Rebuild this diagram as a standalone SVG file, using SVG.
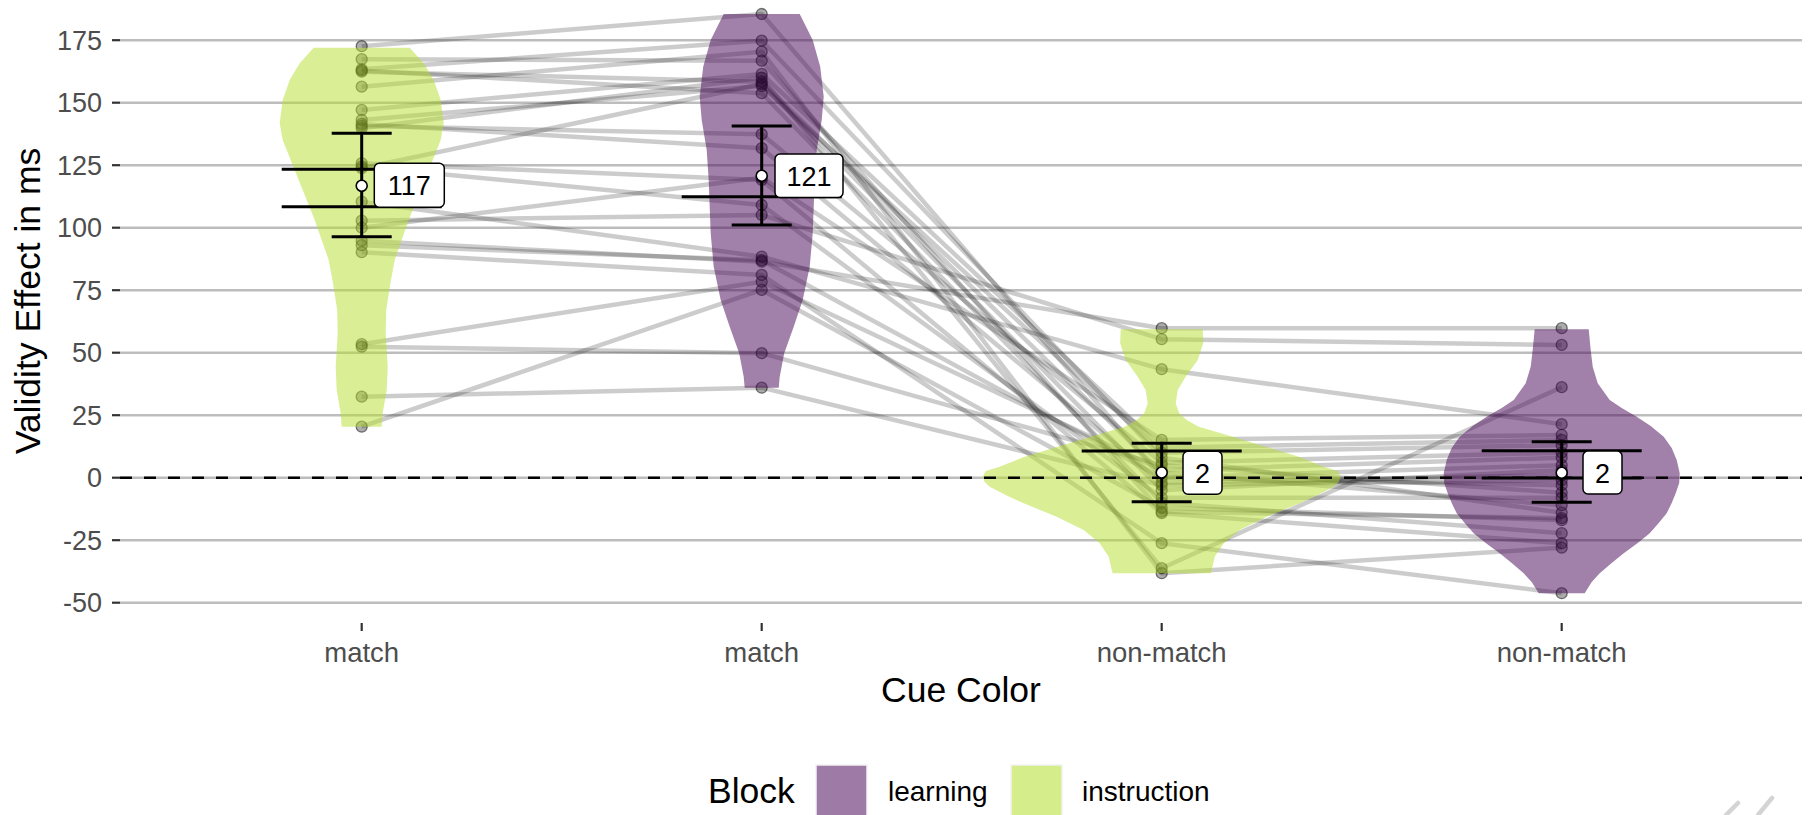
<svg xmlns="http://www.w3.org/2000/svg" width="1810" height="815" viewBox="0 0 1810 815">
<style>
text{font-family:"Liberation Sans",Arial,sans-serif}
.grid line{stroke:#bdbdbd;stroke-width:2.6}
.tick{stroke:#333;stroke-width:2.2}
.ytl{font-size:27px;fill:#4d4d4d;text-anchor:end}
.xtl{font-size:27.5px;fill:#4d4d4d;text-anchor:middle}
.title{font-size:35.5px;fill:#000}
.conn polyline{fill:none;stroke:#000;stroke-opacity:0.2;stroke-width:4.5;stroke-linejoin:round}
.pt{fill:#000;fill-opacity:0.32;stroke:#000;stroke-opacity:0.5;stroke-width:1.3}
.vl{fill:#B4DE2C;fill-opacity:0.5}
.vp{fill:#440154;fill-opacity:0.5}
.eb{stroke:#000;stroke-width:3;fill:none}
.mean{fill:#fff;stroke:#000;stroke-width:1.6}
.lab rect{fill:#fff;stroke:#000;stroke-width:1.5}
.lab text{font-size:27px;fill:#000;text-anchor:middle}
.leg{font-size:28px;fill:#000}
</style>
<rect width="1810" height="815" fill="#fff"/>
<g id="grid" class="grid">
<line x1="120" y1="40.2" x2="1802" y2="40.2"/>
<line x1="120" y1="102.7" x2="1802" y2="102.7"/>
<line x1="120" y1="165.2" x2="1802" y2="165.2"/>
<line x1="120" y1="227.7" x2="1802" y2="227.7"/>
<line x1="120" y1="290.2" x2="1802" y2="290.2"/>
<line x1="120" y1="352.7" x2="1802" y2="352.7"/>
<line x1="120" y1="415.2" x2="1802" y2="415.2"/>
<line x1="120" y1="477.7" x2="1802" y2="477.7"/>
<line x1="120" y1="540.2" x2="1802" y2="540.2"/>
<line x1="120" y1="602.7" x2="1802" y2="602.7"/>
</g>
<g id="y-axis">
<line class="tick" x1="112" y1="40.2" x2="120" y2="40.2"/>
<line class="tick" x1="112" y1="102.7" x2="120" y2="102.7"/>
<line class="tick" x1="112" y1="165.2" x2="120" y2="165.2"/>
<line class="tick" x1="112" y1="227.7" x2="120" y2="227.7"/>
<line class="tick" x1="112" y1="290.2" x2="120" y2="290.2"/>
<line class="tick" x1="112" y1="352.7" x2="120" y2="352.7"/>
<line class="tick" x1="112" y1="415.2" x2="120" y2="415.2"/>
<line class="tick" x1="112" y1="477.7" x2="120" y2="477.7"/>
<line class="tick" x1="112" y1="540.2" x2="120" y2="540.2"/>
<line class="tick" x1="112" y1="602.7" x2="120" y2="602.7"/>
<text class="ytl" x="102" y="49.7">175</text>
<text class="ytl" x="102" y="112.2">150</text>
<text class="ytl" x="102" y="174.7">125</text>
<text class="ytl" x="102" y="237.2">100</text>
<text class="ytl" x="102" y="299.7">75</text>
<text class="ytl" x="102" y="362.2">50</text>
<text class="ytl" x="102" y="424.7">25</text>
<text class="ytl" x="102" y="487.2">0</text>
<text class="ytl" x="102" y="549.7">-25</text>
<text class="ytl" x="102" y="612.2">-50</text>
<text class="title" transform="translate(40,301) rotate(-90)" text-anchor="middle">Validity Effect in ms</text>
</g>
<g id="x-axis">
<line class="tick" x1="361.7" y1="623" x2="361.7" y2="631"/>
<line class="tick" x1="761.7" y1="623" x2="761.7" y2="631"/>
<line class="tick" x1="1161.7" y1="623" x2="1161.7" y2="631"/>
<line class="tick" x1="1561.7" y1="623" x2="1561.7" y2="631"/>
<text class="xtl" x="361.7" y="661.7">match</text>
<text class="xtl" x="761.7" y="661.7">match</text>
<text class="xtl" x="1161.7" y="661.7">non-match</text>
<text class="xtl" x="1561.7" y="661.7">non-match</text>
<text class="title" x="961" y="701.7" text-anchor="middle">Cue Color</text>
</g>
<g id="connectors" class="conn">
<polyline points="361.7,46.2 761.7,14 1161.7,477.7 1561.7,485.2"/>
<polyline points="361.7,59.2 761.7,60.7 1161.7,511.7 1561.7,518.2"/>
<polyline points="361.7,69.2 761.7,40.7 1161.7,457.7 1561.7,512.7"/>
<polyline points="361.7,70.5 761.7,93.2 1161.7,502.7 1561.7,533.2"/>
<polyline points="361.7,71.7 761.7,81.7 1161.7,472.7 1561.7,505.2"/>
<polyline points="361.7,86.7 761.7,51.7 1161.7,573.2 1561.7,547.7"/>
<polyline points="361.7,109.95 761.7,73.95 1161.7,447.7 1561.7,439.95"/>
<polyline points="361.7,119.95 761.7,85.95 1161.7,452.7 1561.7,445.2"/>
<polyline points="361.7,123.95 761.7,148.2 1161.7,482.7 1561.7,475.2"/>
<polyline points="361.7,125.95 761.7,134.2 1161.7,462.7 1561.7,452.7"/>
<polyline points="361.7,128.2 761.7,77.7 1161.7,568.2 1561.7,387.2"/>
<polyline points="361.7,163.2 761.7,179.95 1161.7,513.2 1561.7,543.2"/>
<polyline points="361.7,166.45 761.7,205 1161.7,497.7 1561.7,497.7"/>
<polyline points="361.7,168.2 761.7,83.95 1161.7,490.2 1561.7,470.2"/>
<polyline points="361.7,201.7 761.7,256.7 1161.7,369.2 1561.7,424.2"/>
<polyline points="361.7,220.7 761.7,214.95 1161.7,339.2 1561.7,344.95"/>
<polyline points="361.7,227.7 761.7,177.7 1161.7,439.95 1561.7,434.95"/>
<polyline points="361.7,240.7 761.7,261.7 1161.7,328.2 1561.7,328.2"/>
<polyline points="361.7,245.2 761.7,260.2 1161.7,477.7 1561.7,465.2"/>
<polyline points="361.7,252.2 761.7,274.95 1161.7,543.2 1561.7,593.2"/>
<polyline points="361.7,344.2 761.7,281.7 1161.7,470.2 1561.7,457.7"/>
<polyline points="361.7,346.7 761.7,353.2 1161.7,465.2 1561.7,492.7"/>
<polyline points="361.7,396.7 761.7,387.7 1161.7,485.2 1561.7,480.2"/>
<polyline points="361.7,426.7 761.7,289.95 1161.7,507.7 1561.7,520.2"/>
</g>
<g id="match-instruction">
<g class="pt">
<circle cx="361.7" cy="46.2" r="5.5"/><circle cx="361.7" cy="59.2" r="5.5"/><circle cx="361.7" cy="69.2" r="5.5"/><circle cx="361.7" cy="70.5" r="5.5"/><circle cx="361.7" cy="71.7" r="5.5"/><circle cx="361.7" cy="86.7" r="5.5"/><circle cx="361.7" cy="109.95" r="5.5"/><circle cx="361.7" cy="119.95" r="5.5"/><circle cx="361.7" cy="123.95" r="5.5"/><circle cx="361.7" cy="125.95" r="5.5"/><circle cx="361.7" cy="128.2" r="5.5"/><circle cx="361.7" cy="163.2" r="5.5"/><circle cx="361.7" cy="166.45" r="5.5"/><circle cx="361.7" cy="168.2" r="5.5"/><circle cx="361.7" cy="201.7" r="5.5"/><circle cx="361.7" cy="220.7" r="5.5"/><circle cx="361.7" cy="227.7" r="5.5"/><circle cx="361.7" cy="240.7" r="5.5"/><circle cx="361.7" cy="245.2" r="5.5"/><circle cx="361.7" cy="252.2" r="5.5"/><circle cx="361.7" cy="344.2" r="5.5"/><circle cx="361.7" cy="346.7" r="5.5"/><circle cx="361.7" cy="396.7" r="5.5"/><circle cx="361.7" cy="426.7" r="5.5"/>
</g>
<polygon class="vl" points="409.7,47.7 423.7,63.3 433.7,80 440.7,100 443.7,123 440.7,140 432.7,160 424.7,180 416.7,200 408.7,220 401.7,240 394.7,260 390.4,283 386.2,310 385.7,333 387.7,367 386.7,390 382.7,413 381.7,426.7 341.7,426.7 340.7,413 336.7,390 335.7,367 337.7,333 337.2,310 333,283 328.7,260 321.7,240 314.7,220 306.7,200 298.7,180 290.7,160 282.7,140 279.7,123 282.7,100 289.7,80 299.7,63.3 313.7,47.7"/>
</g>
<g id="match-learning">
<g class="pt">
<circle cx="761.7" cy="14" r="5.5"/><circle cx="761.7" cy="60.7" r="5.5"/><circle cx="761.7" cy="40.7" r="5.5"/><circle cx="761.7" cy="93.2" r="5.5"/><circle cx="761.7" cy="81.7" r="5.5"/><circle cx="761.7" cy="51.7" r="5.5"/><circle cx="761.7" cy="73.95" r="5.5"/><circle cx="761.7" cy="85.95" r="5.5"/><circle cx="761.7" cy="148.2" r="5.5"/><circle cx="761.7" cy="134.2" r="5.5"/><circle cx="761.7" cy="77.7" r="5.5"/><circle cx="761.7" cy="179.95" r="5.5"/><circle cx="761.7" cy="205" r="5.5"/><circle cx="761.7" cy="83.95" r="5.5"/><circle cx="761.7" cy="256.7" r="5.5"/><circle cx="761.7" cy="214.95" r="5.5"/><circle cx="761.7" cy="177.7" r="5.5"/><circle cx="761.7" cy="261.7" r="5.5"/><circle cx="761.7" cy="260.2" r="5.5"/><circle cx="761.7" cy="274.95" r="5.5"/><circle cx="761.7" cy="281.7" r="5.5"/><circle cx="761.7" cy="353.2" r="5.5"/><circle cx="761.7" cy="387.7" r="5.5"/><circle cx="761.7" cy="289.95" r="5.5"/>
</g>
<polygon class="vp" points="799.7,14 812.7,40 820.2,66.7 823.7,96.7 821.7,120 816.7,150 814.7,180 813.7,206.7 812.7,233.3 809.7,266.7 802.7,300 793.7,326.7 784.2,353.3 779.7,376.7 778.7,387.7 744.7,387.7 743.7,376.7 739.2,353.3 729.7,326.7 720.7,300 713.7,266.7 710.7,233.3 709.7,206.7 708.7,180 706.7,150 701.7,120 699.7,96.7 703.2,66.7 710.7,40 723.7,14"/>
</g>
<g id="nonmatch-instruction">
<g class="pt">
<circle cx="1161.7" cy="477.7" r="5.5"/><circle cx="1161.7" cy="511.7" r="5.5"/><circle cx="1161.7" cy="457.7" r="5.5"/><circle cx="1161.7" cy="502.7" r="5.5"/><circle cx="1161.7" cy="472.7" r="5.5"/><circle cx="1161.7" cy="573.2" r="5.5"/><circle cx="1161.7" cy="447.7" r="5.5"/><circle cx="1161.7" cy="452.7" r="5.5"/><circle cx="1161.7" cy="482.7" r="5.5"/><circle cx="1161.7" cy="462.7" r="5.5"/><circle cx="1161.7" cy="568.2" r="5.5"/><circle cx="1161.7" cy="513.2" r="5.5"/><circle cx="1161.7" cy="497.7" r="5.5"/><circle cx="1161.7" cy="490.2" r="5.5"/><circle cx="1161.7" cy="369.2" r="5.5"/><circle cx="1161.7" cy="339.2" r="5.5"/><circle cx="1161.7" cy="439.95" r="5.5"/><circle cx="1161.7" cy="328.2" r="5.5"/><circle cx="1161.7" cy="543.2" r="5.5"/><circle cx="1161.7" cy="470.2" r="5.5"/><circle cx="1161.7" cy="465.2" r="5.5"/><circle cx="1161.7" cy="485.2" r="5.5"/><circle cx="1161.7" cy="507.7" r="5.5"/>
</g>
<polygon class="vl" points="1202.7,329.3 1203.2,343.3 1197.7,360 1185.7,376.7 1177.7,390 1175.7,403.3 1179.2,413.3 1186.7,420 1198.7,426.7 1232.7,436.7 1265.7,446.7 1298.7,456.7 1323.7,466.7 1337.7,471 1340.7,476.7 1338.7,482 1333.7,486.7 1317.7,495 1299.7,503.3 1266.7,516.7 1239.7,530 1223.7,543.3 1214.7,556.7 1211.7,570 1210.7,573.3 1112.7,573.3 1111.7,570 1108.7,556.7 1099.7,543.3 1083.7,530 1056.7,516.7 1023.7,503.3 1005.7,495 989.7,486.7 984.7,482 982.7,476.7 985.7,471 999.7,466.7 1024.7,456.7 1057.7,446.7 1090.7,436.7 1124.7,426.7 1136.7,420 1144.2,413.3 1147.7,403.3 1145.7,390 1137.7,376.7 1125.7,360 1120.2,343.3 1120.7,329.3"/>
</g>
<g id="nonmatch-learning">
<g class="pt">
<circle cx="1561.7" cy="485.2" r="5.5"/><circle cx="1561.7" cy="518.2" r="5.5"/><circle cx="1561.7" cy="512.7" r="5.5"/><circle cx="1561.7" cy="533.2" r="5.5"/><circle cx="1561.7" cy="505.2" r="5.5"/><circle cx="1561.7" cy="547.7" r="5.5"/><circle cx="1561.7" cy="439.95" r="5.5"/><circle cx="1561.7" cy="445.2" r="5.5"/><circle cx="1561.7" cy="475.2" r="5.5"/><circle cx="1561.7" cy="452.7" r="5.5"/><circle cx="1561.7" cy="387.2" r="5.5"/><circle cx="1561.7" cy="543.2" r="5.5"/><circle cx="1561.7" cy="497.7" r="5.5"/><circle cx="1561.7" cy="470.2" r="5.5"/><circle cx="1561.7" cy="424.2" r="5.5"/><circle cx="1561.7" cy="344.95" r="5.5"/><circle cx="1561.7" cy="434.95" r="5.5"/><circle cx="1561.7" cy="328.2" r="5.5"/><circle cx="1561.7" cy="465.2" r="5.5"/><circle cx="1561.7" cy="593.2" r="5.5"/><circle cx="1561.7" cy="457.7" r="5.5"/><circle cx="1561.7" cy="492.7" r="5.5"/><circle cx="1561.7" cy="480.2" r="5.5"/><circle cx="1561.7" cy="520.2" r="5.5"/>
</g>
<polygon class="vp" points="1588.7,329.3 1590.7,350 1592.7,366.7 1597.7,383.3 1609.7,400 1621.7,408 1636.7,416.7 1650.7,426 1663.7,436.7 1671.7,448 1676.7,460 1679.7,473.3 1679.2,483 1675.7,493.3 1671.7,503 1666.7,513.3 1658.7,523 1649.7,533.3 1637.7,543 1623.7,553.3 1611.7,563 1599.7,573.3 1591.7,582 1586.7,590 1584.7,593.3 1538.7,593.3 1536.7,590 1531.7,582 1523.7,573.3 1511.7,563 1499.7,553.3 1485.7,543 1473.7,533.3 1464.7,523 1456.7,513.3 1451.7,503 1447.7,493.3 1444.2,483 1443.7,473.3 1446.7,460 1451.7,448 1459.7,436.7 1472.7,426 1486.7,416.7 1501.7,408 1513.7,400 1525.7,383.3 1530.7,366.7 1532.7,350 1534.7,329.3"/>
</g>
<line id="zero-line" x1="120" y1="477.7" x2="1802" y2="477.7" stroke="#000" stroke-width="2.6" stroke-dasharray="12 12"/>
<g id="summary-match-instruction">
<path class="eb" d="M361.7,133.3V236.7M331.7,133.3H391.7M331.7,236.7H391.7M281.7,169.3H441.7M281.7,206.7H441.7"/>
<circle class="mean" cx="361.7" cy="185.7" r="5.5"/>
<g class="lab"><rect x="374.3" y="163.3" width="70" height="44" rx="5"/><text x="409.3" y="195.3">117</text></g>
</g>
<g id="summary-match-learning">
<path class="eb" d="M761.7,126V225M731.7,126H791.7M731.7,225H791.7M681.7,196.7H841.7"/>
<circle class="mean" cx="761.7" cy="175.7" r="5.5"/>
<g class="lab"><rect x="775" y="154" width="68" height="43.5" rx="5"/><text x="809" y="185.7">121</text></g>
</g>
<g id="summary-nonmatch-instruction">
<path class="eb" d="M1161.7,443.3V501.7M1131.7,443.3H1191.7M1131.7,501.7H1191.7M1081.7,451H1241.7"/>
<circle class="mean" cx="1161.7" cy="472.5" r="5.5"/>
<g class="lab"><rect x="1183" y="451.3" width="39" height="43" rx="5"/><text x="1202.5" y="482.8">2</text></g>
</g>
<g id="summary-nonmatch-learning">
<path class="eb" d="M1561.7,441.7V502.3M1531.7,441.7H1591.7M1531.7,502.3H1591.7M1481.7,450.7H1641.7M1481.7,478H1641.7"/>
<circle class="mean" cx="1561.7" cy="472.7" r="5.5"/>
<g class="lab"><rect x="1583" y="451" width="39" height="43" rx="5"/><text x="1602.5" y="482.5">2</text></g>
</g>
<g id="legend">
<text class="title" x="708" y="803">Block</text>
<rect x="816" y="765" width="51" height="52" fill="#440154" fill-opacity="0.52" stroke="#f2f2f2" stroke-width="1.5"/>
<text class="leg" x="888" y="800.7">learning</text>
<rect x="1011" y="765" width="51" height="52" fill="#B4DE2C" fill-opacity="0.55" stroke="#f2f2f2" stroke-width="1.5"/>
<text class="leg" x="1082" y="800.7">instruction</text>
</g>
<g id="corner-mark" stroke="#d4d4d4" stroke-width="4.5" stroke-linecap="round">
<line x1="1726" y1="815" x2="1738" y2="803"/>
<line x1="1758" y1="815" x2="1772" y2="798"/>
</g>
</svg>
